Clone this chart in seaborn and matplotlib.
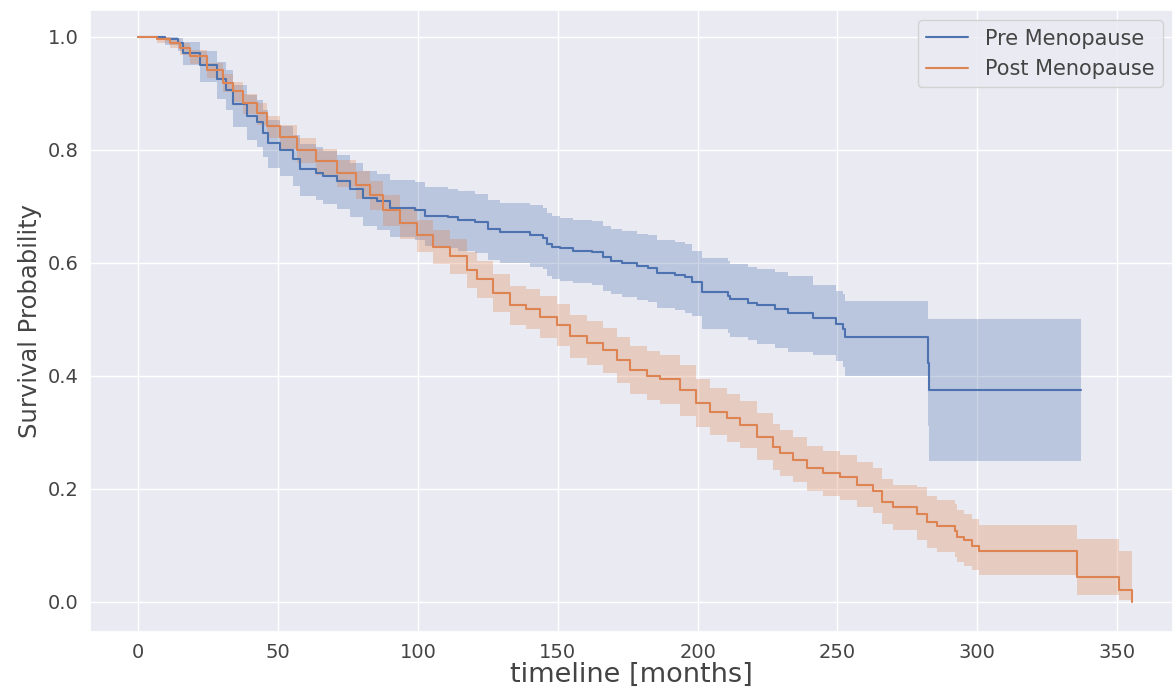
import numpy as np
import pandas as pd
import matplotlib
matplotlib.use("Agg")
import matplotlib.pyplot as plt
import seaborn as sns

# Kaplan-Meier steps (months, survival, CI bounds)
pre_t = [0, 9.5, 14.2, 16.0, 22.0, 28.0, 31.5, 33.9, 38.7, 42.3, 44.6, 46.4,
         50.6, 55.4, 57.8, 63.7, 66.1, 70.9, 75.6, 80.4, 85.2, 89.9, 98.9,
         102.5, 110.8, 114.4, 120.4, 125.1, 129.3, 140.0, 144.8, 146.0, 147.8,
         150.8, 155.5, 162.1, 166.2, 169.2, 172.8, 178.2, 182.3, 185.3, 191.9,
         195.5, 197.9, 201.4, 210.9, 211.6, 218.1, 221.1, 227.6, 232.4, 241.3,
         249.5, 252.1, 252.7, 282.5, 282.8, 337.1]
pre_s = [1.0, 0.995, 0.989, 0.971, 0.95, 0.924, 0.906, 0.88, 0.859, 0.848,
         0.83, 0.812, 0.80, 0.783, 0.765, 0.759, 0.753, 0.744, 0.73, 0.715,
         0.709, 0.697, 0.693, 0.683, 0.68, 0.675, 0.671, 0.659, 0.654, 0.648,
         0.644, 0.633, 0.628, 0.625, 0.621, 0.618, 0.609, 0.603, 0.599, 0.594,
         0.591, 0.582, 0.578, 0.574, 0.565, 0.547, 0.541, 0.535, 0.529, 0.524,
         0.518, 0.511, 0.501, 0.491, 0.482, 0.469, 0.422, 0.375, 0.375]
pre_hi = [1.0, 1.0, 0.998, 0.99, 0.975, 0.955, 0.94, 0.915, 0.897, 0.887,
          0.87, 0.853, 0.842, 0.826, 0.81, 0.804, 0.798, 0.79, 0.777, 0.762,
          0.757, 0.746, 0.742, 0.733, 0.731, 0.726, 0.722, 0.711, 0.706, 0.701,
          0.697, 0.687, 0.682, 0.679, 0.676, 0.673, 0.665, 0.659, 0.656, 0.651,
          0.649, 0.64, 0.637, 0.633, 0.62, 0.608, 0.603, 0.597, 0.592, 0.588,
          0.583, 0.577, 0.56, 0.55, 0.545, 0.532, 0.50, 0.50, 0.50]
pre_lo = [1.0, 0.985, 0.975, 0.95, 0.92, 0.89, 0.87, 0.84, 0.817, 0.805,
          0.786, 0.767, 0.754, 0.736, 0.717, 0.71, 0.704, 0.694, 0.68, 0.664,
          0.657, 0.645, 0.64, 0.63, 0.626, 0.621, 0.617, 0.604, 0.599, 0.592,
          0.588, 0.576, 0.571, 0.568, 0.563, 0.56, 0.55, 0.544, 0.539, 0.534,
          0.53, 0.52, 0.516, 0.511, 0.505, 0.482, 0.476, 0.469, 0.462, 0.456,
          0.449, 0.441, 0.437, 0.425, 0.415, 0.40, 0.31, 0.248, 0.248]

post_t = [0, 6.5, 11.3, 14.8, 18.4, 24.4, 30.3, 33.9, 37.5, 42.3, 45.9, 50.6,
          56.6, 63.7, 70.9, 78.0, 82.8, 87.6, 93.5, 99.5, 105.4, 111.4, 117.4,
          121.0, 126.9, 132.9, 138.8, 143.6, 149.6, 154.3, 160.3, 166.2, 171.0,
          175.8, 181.8, 186.5, 193.7, 199.6, 204.4, 210.4, 215.1, 221.1, 227.0,
          229.4, 234.2, 239.0, 244.9, 250.9, 256.9, 262.8, 265.8, 270.0, 278.3,
          281.9, 285.5, 292.0, 292.6, 295.2, 298.0, 300.7, 335.5, 350.8, 355.2]
post_s = [1.0, 0.995, 0.988, 0.979, 0.965, 0.941, 0.918, 0.903, 0.882, 0.864,
          0.841, 0.823, 0.80, 0.779, 0.758, 0.738, 0.72, 0.693, 0.67, 0.648,
          0.628, 0.611, 0.587, 0.571, 0.546, 0.525, 0.518, 0.504, 0.49, 0.47,
          0.458, 0.445, 0.428, 0.41, 0.40, 0.394, 0.374, 0.351, 0.336, 0.325,
          0.313, 0.292, 0.274, 0.263, 0.251, 0.236, 0.227, 0.22, 0.207, 0.196,
          0.177, 0.167, 0.155, 0.14, 0.133, 0.124, 0.115, 0.108, 0.099, 0.089,
          0.044, 0.021, 0.0]
post_hi = [1.0, 0.999, 0.995, 0.988, 0.976, 0.954, 0.933, 0.919, 0.899, 0.882,
           0.86, 0.843, 0.821, 0.801, 0.781, 0.762, 0.745, 0.719, 0.697, 0.676,
           0.657, 0.641, 0.618, 0.603, 0.579, 0.559, 0.553, 0.54, 0.527, 0.508,
           0.497, 0.485, 0.469, 0.452, 0.443, 0.437, 0.418, 0.393, 0.378, 0.367,
           0.355, 0.334, 0.315, 0.304, 0.291, 0.276, 0.267, 0.26, 0.247, 0.236,
           0.217, 0.207, 0.202, 0.187, 0.18, 0.172, 0.162, 0.155, 0.146, 0.135,
           0.11, 0.09, 0.0]
post_lo = [1.0, 0.988, 0.979, 0.968, 0.952, 0.926, 0.901, 0.885, 0.863, 0.844,
           0.82, 0.801, 0.777, 0.755, 0.733, 0.712, 0.693, 0.665, 0.641, 0.618,
           0.597, 0.579, 0.555, 0.538, 0.512, 0.49, 0.482, 0.467, 0.452, 0.431,
           0.418, 0.404, 0.386, 0.367, 0.356, 0.35, 0.329, 0.309, 0.294, 0.283,
           0.271, 0.25, 0.233, 0.222, 0.211, 0.196, 0.187, 0.18, 0.167, 0.156,
           0.137, 0.127, 0.109, 0.094, 0.087, 0.078, 0.07, 0.063, 0.055, 0.047,
           0.012, 0.002, 0.0]

groups = ["Pre Menopause", "Post Menopause"]

sns.set_theme(style="darkgrid")
palette = sns.color_palette("deep")

fig, ax = plt.subplots(figsize=(11.73, 6.89), dpi=100)
fig.subplots_adjust(left=0.0767, right=1.0, top=0.9855, bottom=0.0827)

series = [(pre_t, pre_s, pre_lo, pre_hi), (post_t, post_s, post_lo, post_hi)]
for i, (name, (t, s, lo, hi)) in enumerate(zip(groups, series)):
    df = pd.DataFrame({"timeline": t, "survival": s})
    sns.lineplot(data=df, x="timeline", y="survival", ax=ax,
                 color=palette[i], drawstyle="steps-post",
                 estimator=None, label=name, linewidth=1.5)
    ax.fill_between(t, lo, hi, step="post", color=palette[i],
                    alpha=0.3, linewidth=0)

ax.set_xlim(-17.3, 370)
ax.set_ylim(-0.054, 1.047)
ax.set_xticks(np.arange(0, 351, 50))
ax.set_yticks([0.0, 0.2, 0.4, 0.6, 0.8, 1.0])
ax.tick_params(labelsize=14, labelcolor="#444444", pad=2)
ax.set_xlabel("timeline [months]", fontsize=19.5, labelpad=0, color="#444444")
ax.set_ylabel("Survival Probability", fontsize=17.5, color="#444444")
ax.legend(loc="upper right", fontsize=15, labelcolor="#444444")

plt.savefig("out.png")
